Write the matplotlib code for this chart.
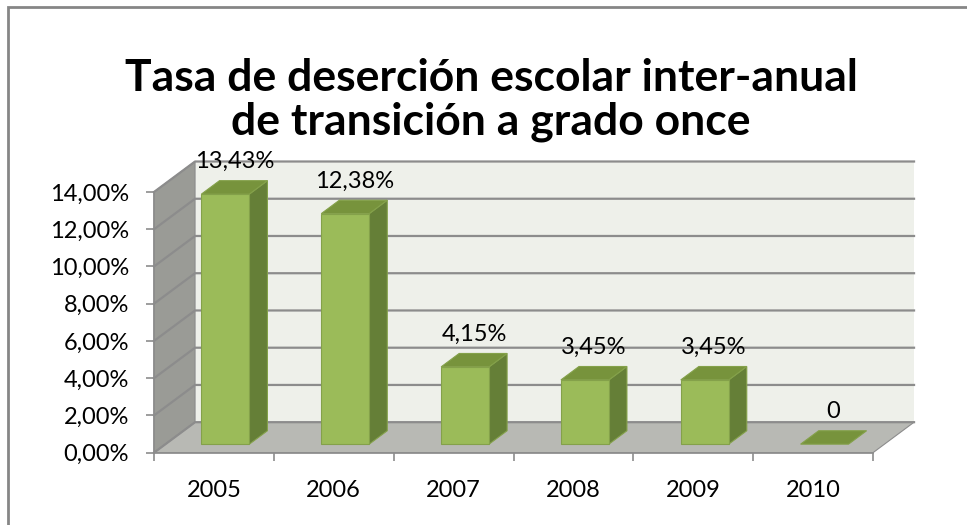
import numpy as np
import matplotlib.pyplot as plt
from matplotlib.patches import Polygon, Rectangle
from matplotlib.lines import Line2D
from matplotlib.ticker import FuncFormatter

plt.rcParams['font.family'] = ['Lato', 'DejaVu Sans']

# data
years = ['2005', '2006', '2007', '2008', '2009', '2010']
tasa = [0.1343, 0.1238, 0.0415, 0.0345, 0.0345, 0.0]
labels = ['13,43%', '12,38%', '4,15%', '3,45%', '3,45%', '0']
yticks = [0.0, 0.02, 0.04, 0.06, 0.08, 0.10, 0.12, 0.14]
titulo = ['Tasa de deserción escolar inter-anual', 'de transición a grado once']

# colours
c_front = '#9BBB59'
c_top = '#77933C'
c_side = '#657F37'
c_edge = '#84A14A'
c_back = '#EEF0EA'
c_wall = '#9A9B96'
c_floor = '#B8B9B4'
c_grid = '#8C8C8C'

# oblique depth (in data units): full depth of the plot box
DX = 0.3425
DY = 0.01638
ymax = 0.14
n = len(years)
x0, x1 = -0.5, n - 0.5


def p(x, y, d):
    return (x + d * DX, y + d * DY)


fig = plt.figure(figsize=(9.67, 5.25), dpi=100)
ax = fig.add_axes([154 / 967, 1 - 452.7 / 525, (873 - 154) / 967, (452.7 - 192) / 525])
ax.set_xlim(x0, x1)
ax.set_ylim(0, ymax)
ax.patch.set_visible(False)

# walls
ax.add_patch(Polygon([p(x0, 0, 1), p(x1, 0, 1), p(x1, ymax, 1), p(x0, ymax, 1)],
                     closed=True, fc=c_back, ec='none', clip_on=False, zorder=0))
ax.add_patch(Polygon([p(x0, 0, 0), p(x0, ymax, 0), p(x0, ymax, 1), p(x0, 0, 1)],
                     closed=True, fc=c_wall, ec=c_grid, lw=0.8, clip_on=False, zorder=1))
ax.add_patch(Polygon([p(x0, 0, 0), p(x1, 0, 0), p(x1, 0, 1), p(x0, 0, 1)],
                     closed=True, fc=c_floor, ec=c_grid, lw=0.8, clip_on=False, zorder=1))

# gridlines (side wall + back wall)
for yv in yticks:
    pts = [p(x0, yv, 0), p(x0, yv, 1), p(x1, yv, 1)]
    xs, ys = zip(*pts)
    ax.add_line(Line2D(xs, ys, color=c_grid, lw=1.6, clip_on=False, zorder=2))

# bars
w = 0.2
d0, d1 = 0.28, 0.72
for i, v in enumerate(tasa):
    xl, xr = i - w, i + w
    top = [p(xl, v, d0), p(xr, v, d0), p(xr, v, d1), p(xl, v, d1)]
    if v > 0:
        front = [p(xl, 0, d0), p(xr, 0, d0), p(xr, v, d0), p(xl, v, d0)]
        side = [p(xr, 0, d0), p(xr, v, d0), p(xr, v, d1), p(xr, 0, d1)]
        ax.add_patch(Polygon(side, closed=True, fc=c_side, ec=c_edge, lw=0.8, clip_on=False, zorder=3))
        ax.add_patch(Polygon(front, closed=True, fc=c_front, ec=c_edge, lw=0.8, clip_on=False, zorder=4))
    ax.add_patch(Polygon(top, closed=True, fc=c_top, ec=c_edge, lw=0.8, clip_on=False, zorder=4))
    lx, ly = p(i, v, 0.5)
    ax.annotate(labels[i], (lx, ly), xytext=(0, 14), textcoords='offset points',
                ha='center', va='baseline', fontsize=17, color='black',
                annotation_clip=False, zorder=5)

# axes
for s in ['top', 'right']:
    ax.spines[s].set_visible(False)
for s in ['left', 'bottom']:
    ax.spines[s].set_color(c_grid)
    ax.spines[s].set_linewidth(1.2)
    ax.spines[s].set_zorder(2)

ax.set_yticks(yticks)
ax.yaxis.set_major_formatter(FuncFormatter(lambda v, pos: f'{v*100:.2f}%'.replace('.', ',')))
ax.tick_params(axis='y', direction='out', length=6, width=1.2, color=c_grid,
               labelsize=17, pad=12)

ax.set_xticks(np.arange(x0, x1 + 0.01, 1.0))
ax.set_xticklabels([])
ax.set_xticks(np.arange(n), minor=True)
ax.set_xticklabels(years, minor=True)
ax.tick_params(axis='x', which='major', direction='out', length=6, width=1.2, color=c_grid)
ax.tick_params(axis='x', which='minor', length=0, labelsize=17, pad=20)

# title, one text per line
for k, linea in enumerate(titulo):
    fig.text(0.508, 1 - (91 + 44 * k) / 525, linea, ha='center', va='baseline',
             fontsize=32, fontweight='bold')

# chart border
fig.add_artist(Rectangle((7.5 / 967, -0.1), 1.2, 1.1 - 7.5 / 525, transform=fig.transFigure,
                         fill=False, ec='#868686', lw=2))

fig.savefig('out.png', dpi=100, facecolor='white')
